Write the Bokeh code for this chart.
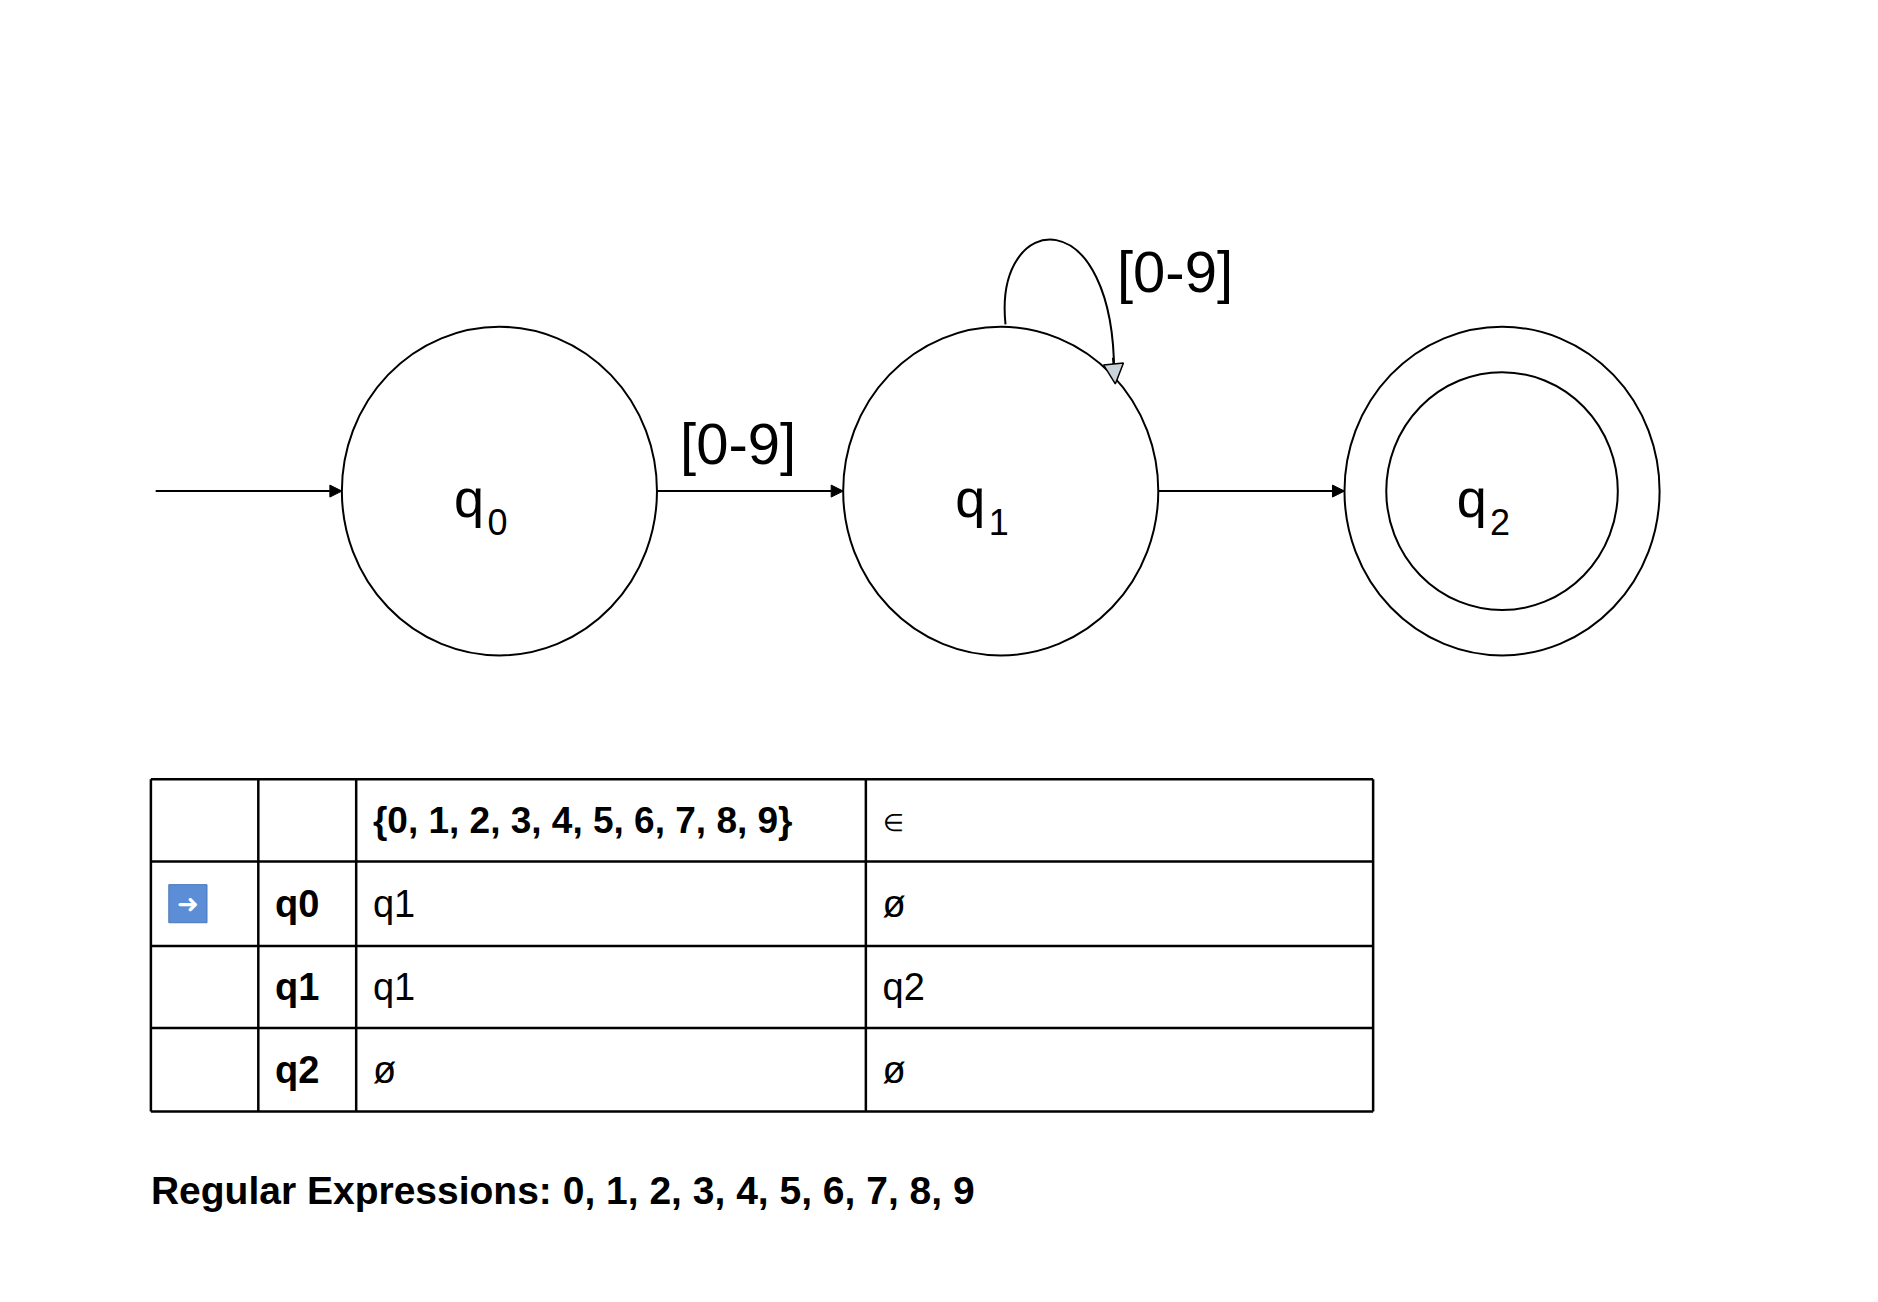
from bokeh.plotting import figure
from bokeh.models import Range1d, Arrow, NormalHead
from bokeh.core.properties import value
from bokeh.embed import file_html
from bokeh.resources import INLINE

states = ["q", "q", "q"]
subs = ["0", "1", "2"]
state_x = [418, 838, 1258]
state_y = [412, 412, 412]
accepting = [False, False, True]
edge_labels = ["[0-9]", "[0-9]"]

header = ["", "", "{0, 1, 2, 3, 4, 5, 6, 7, 8, 9}", "∈"]
row_states = ["q0", "q1", "q2"]
col_digit = ["q1", "q1", "ø"]
col_eps = ["ø", "q2", "ø"]
col_x = [126, 216, 298, 725, 1150]
row_y = [654, 723, 794, 863, 933]
regex_text = "Regular Expressions: 0, 1, 2, 3, 4, 5, 6, 7, 8, 9"

p = figure(width=1862, height=1286, output_backend="svg", toolbar_location=None,
           x_range=Range1d(0, 1560), y_range=Range1d(1080, 0), min_border=0)
p.axis.visible = False
p.grid.visible = False
p.outline_line_color = None
p.background_fill_color = "white"

F = value("Liberation Sans")
R = 132
p.ellipse(state_x, state_y, width=2*R, height=2*R + 12, fill_color="white", line_color="black", line_width=2)
acc_x = [x for x, a in zip(state_x, accepting) if a]
acc_y = [y for y, a in zip(state_y, accepting) if a]
p.ellipse(acc_x, acc_y, width=194, height=200, fill_color=None, line_color="black", line_width=2)
p.text([x - 38 for x in state_x], [y + 6 for y in state_y], text=states, text_font=F,
       text_font_size="54px", text_baseline="middle", text_align="left")
p.text([x - 10 for x in state_x], [y + 26 for y in state_y], text=subs, text_font=F,
       text_font_size="36px", text_baseline="middle", text_align="left")

# edges
starts = [(130, 412), (state_x[0] + R, 412), (state_x[1] + R, 412)]
ends = [(state_x[0] - R, 412), (state_x[1] - R, 412), (state_x[2] - R, 412)]
for (x0, y0), (x1, y1) in zip(starts, ends):
    p.add_layout(Arrow(end=NormalHead(size=12, fill_color="black", line_color="black"),
                       x_start=x0, y_start=y0, x_end=x1, y_end=y1, line_width=2))
# self loop
p.bezier(x0=[842], y0=[272], x1=[933], y1=[318], cx0=[832], cy0=[175], cx1=[935], cy1=[165],
         line_color="black", line_width=2)
p.add_layout(Arrow(end=NormalHead(size=20, fill_color="#c9d3dc", line_color="black", line_width=1.5),
                   x_start=932, y_start=300, x_end=934, y_end=322, line_width=2))
p.text([618, 984], [372, 228], text=edge_labels, text_font=F, text_font_size="58px",
       text_align="center", text_baseline="middle")

# table
p.segment(x0=[col_x[0]] * len(row_y), y0=row_y, x1=[col_x[-1]] * len(row_y), y1=row_y,
          line_color="black", line_width=2.5)
p.segment(x0=col_x, y0=[row_y[0]] * len(col_x), x1=col_x, y1=[row_y[-1]] * len(col_x),
          line_color="black", line_width=2.5)
mids = [(row_y[i] + row_y[i + 1]) / 2 for i in range(4)]
pad = 14
p.text([col_x[2] + pad], [mids[0]], text=[header[2]], text_font=F,
       text_font_size="37px", text_font_style="bold", text_baseline="middle")
p.text([col_x[3] + pad], [mids[0] + 2], text=[header[3]], text_font=F,
       text_font_size="24px", text_baseline="middle")
p.text([col_x[1] + pad] * 3, mids[1:], text=row_states, text_font=F,
       text_font_size="38px", text_font_style="bold", text_baseline="middle")
p.text([col_x[2] + pad] * 3, mids[1:], text=col_digit, text_font=F,
       text_font_size="38px", text_baseline="middle")
p.text([col_x[3] + pad] * 3, mids[1:], text=col_eps, text_font=F,
       text_font_size="38px", text_baseline="middle")
# start marker icon
p.rect([157], [mids[1]], width=32, height=32, fill_color="#5b8ed6", line_color="#4a78b8")
p.text([157], [mids[1]], text=["➜"], text_font=value("DejaVu Sans"), text_font_size="26px",
       text_color="white", text_align="center", text_baseline="middle")

p.text([126], [999], text=[regex_text], text_font=F, text_font_size="39px",
       text_font_style="bold", text_baseline="middle")

open("out.html", "w").write(file_html(p, INLINE))
